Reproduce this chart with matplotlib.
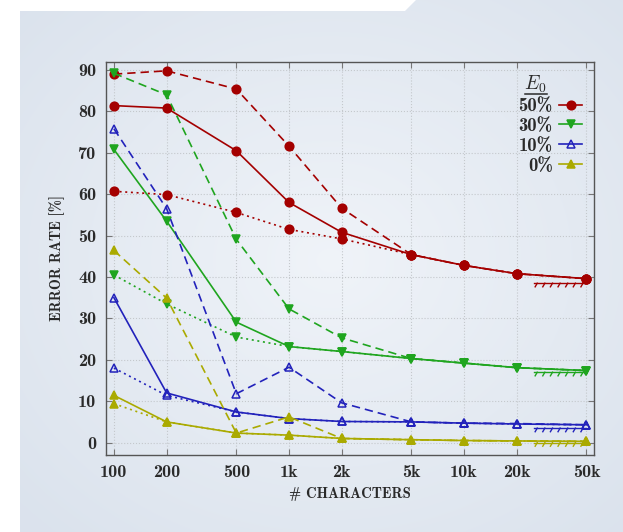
import numpy as np
import matplotlib
matplotlib.use("Agg")
import matplotlib.pyplot as plt
import matplotlib.patheffects as pe
from matplotlib.patches import Polygon
from matplotlib.lines import Line2D

plt.rcParams['mathtext.fontset'] = 'cm'
SERIF = ['cmb10', 'DejaVu Serif']

# data
chars = [100, 200, 500, 1000, 2000, 5000, 10000, 20000, 50000]
xtick_labels = ['100', '200', '500', '1k', '2k', '5k', '10k', '20k', '50k']

e50_dashed = [89.0, 89.8, 85.4, 71.6, 56.6, 45.4, 42.8, 40.8, 39.6]
e50_solid = [81.4, 80.8, 70.5, 58.0, 50.8, 45.4, 42.8, 40.8, 39.6]
e50_dotted = [60.7, 59.9, 55.6, 51.5, 49.2, 45.4, 42.8, 40.8, 39.6]

e30_dashed = [89.2, 84.0, 49.1, 32.3, 25.3, 20.3, 19.2, 18.1, 17.4]
e30_solid = [70.8, 53.5, 29.1, 23.2, 22.0, 20.3, 19.2, 18.1, 17.4]
e30_dotted = [40.5, 33.5, 25.5, 23.2, 22.0, 20.3, 19.2, 18.1, 17.4]

e10_dashed = [75.8, 56.5, 11.8, 18.2, 9.6, 5.0, 4.7, 4.6, 4.3]
e10_solid = [35.0, 12.0, 7.4, 5.8, 5.1, 5.0, 4.7, 4.5, 4.3]
e10_dotted = [18.0, 11.4, 7.4, 5.8, 5.1, 5.0, 4.7, 4.5, 4.3]

e0_dashed = [46.4, 34.9, 2.3, 6.2, 1.0, 0.7, 0.5, 0.4, 0.3]
e0_solid = [11.4, 5.0, 2.3, 1.8, 1.0, 0.7, 0.5, 0.4, 0.3]
e0_dotted = [9.4, 5.0, 2.3, 1.8, 1.0, 0.7, 0.5, 0.4, 0.3]

asym_x = [25000, 50000]
asym_levels = [38.5, 17.0, 3.5, 0.0]

labels = ['50%', '30%', '10%', '0%']
colors = ['#a40000', '#1fa51f', '#2222bb', '#aaaa00']
markers = ['o', 'v', '^', '^']

fig = plt.figure(figsize=(6.23, 5.32), dpi=100)
fig.patch.set_facecolor('white')

# background panel with a soft radial gradient
bg = fig.add_axes([0, 0, 1, 1], zorder=-10)
bg.set_xlim(0, 623)
bg.set_ylim(532, 0)
bg.axis('off')
yy, xx = np.mgrid[0:532, 0:623]
r = np.sqrt(((xx - 330) / 420.0) ** 2 + ((yy - 260) / 360.0) ** 2)
grad = np.clip(r, 0, 1)
c_in = np.array([0.94, 0.955, 0.975])
c_out = np.array([0.86, 0.89, 0.93])
img = c_in[None, None, :] * (1 - grad[..., None]) + c_out[None, None, :] * grad[..., None]
im = bg.imshow(img, extent=(0, 623, 532, 0), aspect='auto')
panel = Polygon([[20, 532], [20, 11], [405, 11], [416, 0], [623, 0], [623, 532]],
                closed=True, facecolor='none', edgecolor='none', transform=bg.transData)
bg.add_patch(panel)
im.set_clip_path(panel)

ax = fig.add_axes([0.170, 0.1447, 0.783, 0.7393])
ax.patch.set_alpha(0)
ax.set_xscale('log')

groups = [
    (e50_dashed, e50_solid, e50_dotted),
    (e30_dashed, e30_solid, e30_dotted),
    (e10_dashed, e10_solid, e10_dotted),
    (e0_dashed, e0_solid, e0_dotted),
]

for i, (dashed, solid, dotted) in enumerate(groups):
    c = colors[i]
    mfc = 'none' if i == 2 else c
    ms = 6.2 if markers[i] == 'o' else 5.5
    kw = dict(color=c, marker=markers[i], ms=ms, mfc=mfc, mec=c, mew=1.1, lw=1.2)
    ax.plot(chars, dotted, ls=(0, (1.2, 2.2)), **kw)
    ax.plot(chars, dashed, ls=(0, (5, 3)), **kw)
    ax.plot(chars, solid, ls='-', label=labels[i], **kw)
    ax.plot(asym_x, [asym_levels[i]] * 2, color=c, lw=1.0,
            path_effects=[pe.withTickedStroke(angle=-120, spacing=5, length=0.6)])

ax.set_xlim(90, 55000)
ax.set_ylim(-3, 92)
ax.set_xticks(chars)
ax.set_xticklabels(xtick_labels)
ax.set_yticks(range(0, 91, 10))
ax.minorticks_off()
ax.tick_params(direction='in', top=True, right=True, length=4, width=0.8,
               color='#777777', labelsize=13, pad=7)
for lab in ax.get_xticklabels() + ax.get_yticklabels():
    lab.set_family(SERIF)
    lab.set_color('#2a2a2a')
ax.grid(True, ls=':', lw=0.8, color='#c4c8cc')
for s in ax.spines.values():
    s.set_color('#555555')
    s.set_linewidth(1.0)

ax.text(-0.1, 0.5, 'ERROR RATE [%]', transform=ax.transAxes, rotation=90,
        ha='center', va='center', fontsize=10.5, family=SERIF, color='#2a2a2a')
ax.text(0.5, -0.1, '# CHARACTERS', transform=ax.transAxes,
        ha='center', va='center', fontsize=10.5, family=SERIF, color='#2a2a2a')

leg = ax.legend(loc='upper right', bbox_to_anchor=(0.991, 0.929), borderaxespad=0,
                frameon=False, markerfirst=False,
                handlelength=1.2, handletextpad=0.35, labelspacing=0.1,
                prop={'family': SERIF, 'size': 13.5})
for t in leg.get_texts():
    t.set_color('#2a2a2a')

# underlined E_0 title centred over the label column
fig.canvas.draw()
ext = [t.get_window_extent() for t in leg.get_texts()]
xc = (min(e.x0 for e in ext) + max(e.x1 for e in ext)) / 2
yc = (ext[0].y0 + ext[0].y1) / 2
to_fig = fig.transFigure.inverted()
(tx, ty), (ux0, uy), (ux1, _) = to_fig.transform(
    [[xc, yc + 22], [xc - 11, yc + 12.5], [xc + 11, yc + 12.5]])
fig.text(tx, ty, r'$E_0$', ha='center', va='center', fontsize=14, color='#2a2a2a')
fig.add_artist(Line2D([ux0, ux1], [uy, uy], color='#2a2a2a', lw=1.1,
                      transform=fig.transFigure, zorder=20))

fig.savefig('out.png', dpi=100)
